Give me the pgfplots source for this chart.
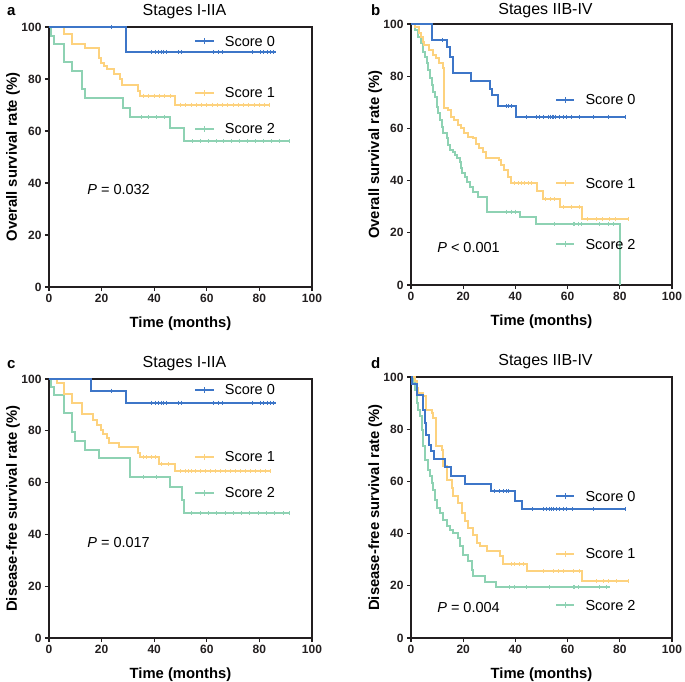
\documentclass[border=0pt]{standalone}
\usepackage{pgfplots}
\pgfplotsset{compat=1.18}
\usepackage{fontspec}
\setmainfont{Liberation Sans}
\definecolor{c0}{HTML}{3D76C8}
\definecolor{c1}{HTML}{FDD27E}
\definecolor{c2}{HTML}{8ED2B3}
\definecolor{ax}{HTML}{231F20}
\newcommand{\legf}{\fontsize{14.5}{16}\selectfont}
\newcommand{\leg}[3]{%
  \draw[#1, line width=2pt] (axis cs:55.6,#2) -- (axis cs:62.6,#2);
  \draw[#1, line width=0.9pt] (axis cs:59.1,#2-1.2) -- (axis cs:59.1,#2+1.2);
  \node[anchor=west, inner sep=0pt, font=\legf, text=black] at (axis cs:66.8,#2) {#3};}
\pgfplotsset{
 km/.style={
  scale only axis, anchor=south west,
  xmin=0,xmax=100,ymin=0,ymax=100,
  xtick={0,20,40,60,80,100}, ytick={0,20,40,60,80,100},
  axis line style={line width=1.2pt, draw=ax},
  tick style={line width=1.2pt, draw=ax},
  major tick length=4pt,
  tick align=outside, tick pos=left,
  /pgf/number format/assume math mode=true,
  tick label style={font=\fontsize{12}{14}\selectfont\bfseries, text=ax},
  clip=false,
  every axis x label/.style={at={([yshift=-40pt]axis description cs:0.5,0)}, anchor=base, font=\fontsize{14.8}{16}\selectfont\bfseries},
  every axis y label/.style={at={([xshift=-32pt]axis description cs:0,0.5)}, rotate=90, anchor=base, font=\fontsize{14.8}{16}\selectfont\bfseries},
  every axis title/.style={at={([xshift=4pt,yshift=12pt]axis description cs:0.5,1)}, anchor=base, font=\fontsize{16}{18}\selectfont},
  xlabel={Time (months)},
 },
 s0/.style={const plot, c0, line width=2pt, mark=none},
 s1/.style={const plot, c1, line width=2pt, mark=none},
 s2/.style={const plot, c2, line width=2pt, mark=none},
 cens/.style={only marks, mark=|, mark size=2pt, mark options={line width=0.9pt}},
}
\begin{document}
\begin{tikzpicture}
\useasboundingbox (0,0) rectangle (685pt,-682pt);
\node[anchor=base west, inner sep=0pt, font=\fontsize{15}{16}\selectfont\bfseries] at (7pt,-16pt) {a};
\node[anchor=base west, inner sep=0pt, font=\fontsize{15}{16}\selectfont\bfseries] at (371pt,-16pt) {b};
\node[anchor=base west, inner sep=0pt, font=\fontsize{15}{16}\selectfont\bfseries] at (7pt,-368pt) {c};
\node[anchor=base west, inner sep=0pt, font=\fontsize{15}{16}\selectfont\bfseries] at (371pt,-368pt) {d};

% ---------------- Panel a
\begin{axis}[km, at={(49pt,-287pt)}, width=263pt, height=260pt,
  title={Stages I-IIA}, ylabel={Overall survival rate (\%)}]
\addplot[s2] coordinates {(0,100) (0.8,96.6) (1.9,93.4) (5.7,86.7) (8.9,82.9) (12.7,76.1) (13.7,72.7) (28.1,68.8) (30.9,65.3) (46.1,61.2) (51.2,56.1) (91.4,56.1)};
\addplot[cens, c2] coordinates {(35,65.3) (38,65.3) (41,65.3) (44,65.3) (54.5,56.1) (57.5,56.1) (60.5,56.1) (63.5,56.1) (66.5,56.1) (69.5,56.1) (72.5,56.1) (75.5,56.1) (78.5,56.1) (81.5,56.1) (84.5,56.1) (87.5,56.1) (91.4,56.1)};
\addplot[s1] coordinates {(0,100) (5.7,97.4) (8.9,93.4) (13.7,92) (19.2,88) (19.8,86.3) (21.1,85) (22,83.8) (24.8,82.1) (27,80) (27.7,77.8) (34,75.5) (34.7,73.6) (48,70.1) (84.2,70.1)};
\addplot[cens, c1] coordinates {(36,73.6) (38,73.6) (40,73.6) (42,73.6) (44,73.6) (46,73.6) (50,70.1) (52,70.1) (54,70.1) (56,70.1) (58,70.1) (60,70.1) (62,70.1) (64,70.1) (66,70.1) (68,70.1) (70,70.1) (72,70.1) (74,70.1) (76,70.1) (78,70.1) (80,70.1) (82,70.1) (84,70.1)};
\addplot[s0] coordinates {(0,100) (29.2,90.4) (86.3,90.4)};
\addplot[cens, c0] coordinates {(23.9,100) (39.1,90.4) (40.4,90.4) (41.7,90.4) (42.9,90.4) (43.6,90.4) (44.8,90.4) (49.3,90.4) (50.5,90.4) (62.6,90.4) (64.5,90.4) (65.8,90.4) (77.2,90.4) (80.4,90.4) (81.7,90.4) (82.9,90.4) (84.2,90.4) (85.5,90.4)};
\leg{c0}{94.6}{Score 0}
\leg{c1}{74.7}{Score 1}
\leg{c2}{60.9}{Score 2}
\node[anchor=west, inner sep=0pt, font=\legf] at (axis cs:14.5,37.5) {\textit{P} = 0.032};
\end{axis}

% ---------------- Panel b
\begin{axis}[km, at={(411pt,-285pt)}, width=261pt, height=261pt,
  title={Stages IIB-IV}, ylabel={Overall survival rate (\%)},
  title style={at={([xshift=4pt,yshift=9pt]axis description cs:0.5,1)}}]
\addplot[s2] coordinates {(0,100) (1.5,97.7) (2.8,95.1) (3.7,92.6) (4.7,89.4) (5.4,87.5) (6,84.9) (6.6,82.4) (7.3,79.2) (7.9,76.6) (8.5,74.1) (9.2,72.2) (9.8,68.3) (10.5,65.8) (11.1,63.2) (11.7,60.7) (12.4,58.1) (13.6,56.2) (14.3,53.6) (14.9,51.7) (16.2,51.1) (16.8,49.8) (17.5,48.5) (18.8,47.3) (19,44.7) (19.4,42.8) (20.7,41.5) (21.3,39.6) (22.6,37.7) (23.9,35.8) (25.8,33.8) (29,28.1) (41.7,26.2) (47.8,23.4) (80,23.4) (80,0)};
\addplot[cens, c2] coordinates {(36.5,28.1) (38.5,28.1) (40,28.1) (55.1,23.4) (62.1,23.4) (62.8,23.4) (64,23.4) (65.3,23.4) (72.3,23.4) (75.5,23.4) (77.4,23.4)};
\addplot[s1] coordinates {(0,100) (1.5,99) (3.2,96.4) (3.8,95.1) (4.5,93.2) (5.1,92) (7,90) (8.3,88.1) (9.6,86.8) (10.9,84.9) (12.1,83) (12.5,81) (12.8,67.7) (14,67) (15.3,64.2) (16.6,63.2) (17.9,61.3) (19.1,60) (20.4,58.1) (21.7,56.8) (23.6,56.2) (24.9,54.2) (26.2,52.3) (27.4,51.1) (28.7,48.5) (33.8,47.9) (34.4,46) (35.7,44) (37,41.5) (38.3,38.9) (48.1,36.2) (50.4,32.9) (57,30) (65.7,25.2) (83.5,25.2)};
\addplot[cens, c1] coordinates {(39.8,38.9) (41,38.9) (42.3,38.9) (43.6,38.9) (44.9,38.9) (46.2,38.9) (51.6,32.9) (53.5,32.9) (55,32.9) (58.5,30) (61.5,30) (64.7,30) (67.5,25.2) (71,25.2) (73.5,25.2) (76,25.2) (78.5,25.2) (83.5,25.2)};
\addplot[s0] coordinates {(0,100) (8,93.9) (13.6,91.3) (15.1,87.5) (15.9,81.3) (23,78.3) (30.4,75) (30.9,72.8) (33.2,68.6) (40.2,64.5) (82.3,64.5)};
\addplot[cens, c0] coordinates {(12.1,93.9) (36.4,68.6) (37.2,68.6) (38.3,68.6) (44.3,64.5) (48.1,64.5) (49.4,64.5) (50.9,64.5) (52.6,64.5) (53.4,64.5) (54.2,64.5) (54.7,64.5) (55.5,64.5) (56.8,64.5) (58.3,64.5) (59.6,64.5) (61.5,64.5) (64.7,64.5) (70,64.5) (75.5,64.5) (82.3,64.5)};
\leg{c0}{70.9}{Score 0}
\leg{c1}{39}{Score 1}
\leg{c2}{15.7}{Score 2}
\node[anchor=west, inner sep=0pt, font=\legf] at (axis cs:10,14.2) {\textit{P} < 0.001};
\end{axis}

% ---------------- Panel c
\begin{axis}[km, at={(49pt,-638pt)}, width=263pt, height=259pt,
  title={Stages I-IIA}, ylabel={Disease-free survival rate (\%)}]
\addplot[s2] coordinates {(0,100) (0.8,97) (1.9,93.8) (5.7,87) (8.9,79.7) (9.9,76.2) (13.7,72.6) (19.2,69.4) (30.9,62.3) (46.1,58.2) (50.5,53.1) (51.2,48.2) (91.4,48.2)};
\addplot[cens, c2] coordinates {(35.9,62.3) (41,62.3) (54.3,48.2) (57.5,48.2) (60.6,48.2) (63.8,48.2) (67,48.2) (70.1,48.2) (73.3,48.2) (76.4,48.2) (79.6,48.2) (82.7,48.2) (85.9,48.2) (89,48.2) (91.4,48.2)};
\addplot[s1] coordinates {(0,100) (2.9,98.3) (5.7,94.2) (8.9,90.6) (12.7,86.4) (16.9,84.2) (18.4,82.3) (19.7,80.3) (20.7,78.7) (22,77.1) (22.9,75.4) (26.7,73.6) (34,71.3) (34.7,69.8) (41.7,67.2) (48,64.3) (84.2,64.3)};
\addplot[cens, c1] coordinates {(36,69.8) (37.2,69.8) (39.1,69.8) (40.4,69.8) (42.9,67.2) (45.5,67.2) (49.9,64.3) (51.8,64.3) (53.1,64.3) (54.3,64.3) (55.6,64.3) (57.5,64.3) (59.4,64.3) (61.3,64.3) (63.2,64.3) (65.1,64.3) (67,64.3) (69,64.3) (70.9,64.3) (72.8,64.3) (74.7,64.3) (76.6,64.3) (78.5,64.3) (80.4,64.3) (82.3,64.3) (84.2,64.3)};
\addplot[s0] coordinates {(0,100) (16,95.5) (29.2,90.9) (86.3,90.9)};
\addplot[cens, c0] coordinates {(23.9,95.5) (39.1,90.9) (40.4,90.9) (41.7,90.9) (42.9,90.9) (43.6,90.9) (44.8,90.9) (49.3,90.9) (50.5,90.9) (62.6,90.9) (64.5,90.9) (65.8,90.9) (77.2,90.9) (80.4,90.9) (81.7,90.9) (82.9,90.9) (84.2,90.9) (85.5,90.9)};
\leg{c0}{95.8}{Score 0}
\leg{c1}{69.9}{Score 1}
\leg{c2}{56}{Score 2}
\node[anchor=west, inner sep=0pt, font=\legf] at (axis cs:14.5,37) {\textit{P} = 0.017};
\end{axis}

% ---------------- Panel d
\begin{axis}[km, at={(411pt,-638pt)}, width=261pt, height=261pt,
  title={Stages IIB-IV}, ylabel={Disease-free survival rate (\%)}]
\addplot[s2] coordinates {(0,100) (0.9,97.7) (1.5,95.1) (2.2,90) (2.8,87.5) (3.4,84.9) (4.1,79.8) (4.7,73.4) (5.4,68.3) (6.6,64.5) (7.3,61.9) (7.9,59.4) (8.5,56.8) (9.2,53) (9.8,49.8) (11.1,47.9) (12.4,45.3) (13.6,42.8) (14.9,41.5) (16.2,40.2) (18.1,38.3) (18.8,35.1) (20,31.9) (21.9,29.4) (23.2,26.2) (23.9,23.6) (28.3,21.3) (32.5,19.5) (76.4,19.5)};
\addplot[cens, c2] coordinates {(37.9,19.5) (39.8,19.5) (44.3,19.5) (53.2,19.5) (62.1,19.5) (62.8,19.5) (64,19.5) (72.3,19.5) (74.9,19.5)};
\addplot[s1] coordinates {(0,100) (1.5,98.3) (2.2,95.8) (2.8,93.9) (4.7,92.6) (5.7,87.5) (7.9,86.2) (8.5,84.3) (9.6,73.4) (11.7,72.2) (12.4,65.8) (13.6,60.7) (15.6,57.5) (16.2,54.3) (18.1,51.7) (19.4,47.9) (20.7,44.7) (21.9,42.1) (23.9,39.6) (25.1,36.4) (26.4,35.1) (29,33.2) (34.1,31.3) (35.3,28.4) (44.3,25.5) (65.7,21.7) (83.5,21.7)};
\addplot[cens, c1] coordinates {(38.5,28.4) (39.8,28.4) (41.5,28.4) (43.2,28.4) (50.6,25.5) (54.5,25.5) (56.4,25.5) (58.3,25.5) (62.1,25.5) (64.7,25.5) (71,21.7) (73.6,21.7) (75.5,21.7) (78.7,21.7) (83.5,21.7)};
\addplot[s0] coordinates {(0,100) (0.5,97.5) (2.2,93.1) (4.5,87.4) (5.2,82.3) (5.6,77.8) (7,73.9) (7.5,71.5) (8.9,68.5) (13,65.5) (15.3,62) (20.7,59.1) (30.5,56.2) (39.8,52.4) (42.7,49.5) (82.3,49.5)};
\addplot[cens, c0] coordinates {(32.1,56.2) (34,56.2) (35.6,56.2) (36.4,56.2) (37.2,56.2) (46.6,49.5) (50.6,49.5) (51.9,49.5) (53.2,49.5) (53.8,49.5) (54.7,49.5) (55.7,49.5) (56.8,49.5) (58.3,49.5) (59.6,49.5) (61.9,49.5) (69.8,49.5) (82.3,49.5)};
\leg{c0}{54.4}{Score 0}
\leg{c1}{32.2}{Score 1}
\leg{c2}{12.6}{Score 2}
\node[anchor=west, inner sep=0pt, font=\legf] at (axis cs:10,11.5) {\textit{P} = 0.004};
\end{axis}
\end{tikzpicture}
\end{document}
